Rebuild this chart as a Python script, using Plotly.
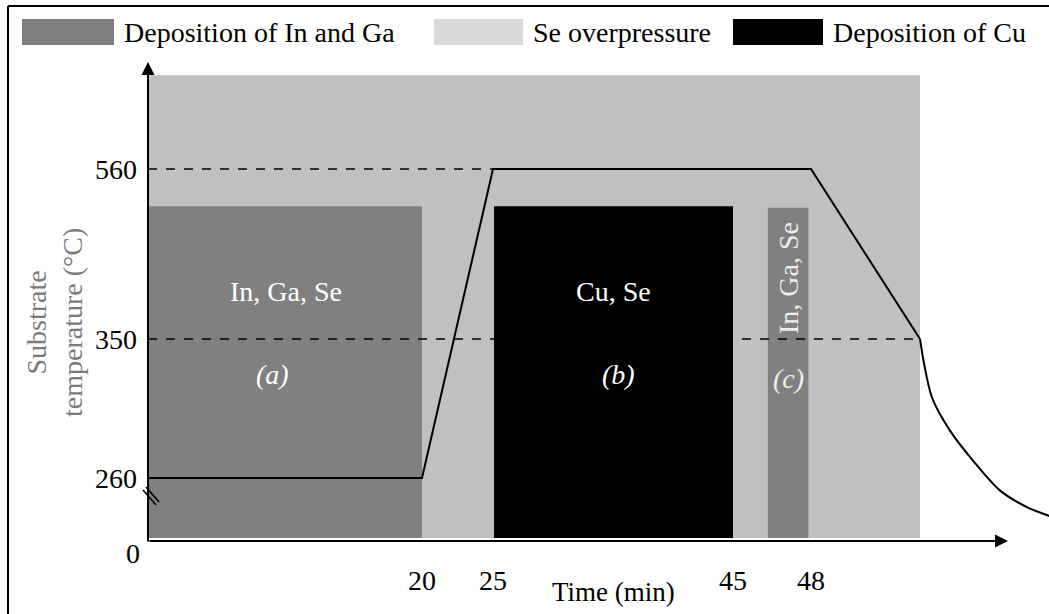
import numpy as np
import plotly.graph_objects as go

# --- process data -----------------------------------------------------------
# Schematic axes: each labelled time / temperature sits at a fixed spot on
# its axis, and values in between are mapped piecewise-linearly.
time_knots = [0, 20, 25, 45, 48, 55, 65]
time_axis_pos = [0, 274, 345, 585, 663, 772, 928]
temp_knots = [0, 260, 350, 560, 700]
temp_axis_pos = [0, 63, 202, 372, 485]

time_ticks = [20, 25, 45, 48]
temp_ticks = [260, 350, 560]

# temperature profile of the substrate
profile_time = [0, 20, 25, 48, 55]
profile_temp = [260, 260, 560, 560, 350]
cooling_time = [55, 55.26, 55.77, 56.9, 58.5, 60.1, 61.85, 63.3]
cooling_temp = [350, 334, 312, 291, 270, 210, 140, 103]

# deposition stages
stage_label = ["(a)", "(b)", "(c)"]
stage_species = ["In, Ga, Se", "Cu, Se", "In, Ga, Se"]
stage_start = [0, 25, 46.3]
stage_end = [20, 45, 47.9]
stage_top = [514, 514, 512]
stage_color = ["#808080", "#000000", "#808080"]

# selenium overpressure window
se_start, se_end, se_top = 0, 55, 676

legend_names = ["Deposition of In and Ga", "Se overpressure", "Deposition of Cu"]
legend_colors = ["#808080", "#d9d9d9", "#000000"]


def tx(t):
    return np.interp(t, time_knots, time_axis_pos)


def ty(v):
    return np.interp(v, temp_knots, temp_axis_pos)


FONT = "Liberation Serif, Times New Roman, serif"
W, H = 1049, 614
ML, MR, MT, MB = 148, 0, 40, 73
PW, PH = W - ML - MR, H - MT - MB


def paper_x(px):
    return (px - ML) / PW


def paper_y(py):
    return (H - MB - py) / PH


def label(px, py, text, size=28, color="black", angle=0,
          xanchor="center", yanchor="middle", **kw):
    return dict(x=paper_x(px), y=paper_y(py), xref="paper", yref="paper",
                text=text, showarrow=False, textangle=angle,
                xanchor=xanchor, yanchor=yanchor,
                font=dict(family=FONT, size=size, color=color), **kw)


fig = go.Figure()
shapes = []
annotations = []

# Se overpressure background
shapes.append(dict(type="rect", xref="x", yref="y", layer="below",
                   x0=float(tx(se_start)), x1=float(tx(se_end)),
                   y0=float(ty(0)) + 3, y1=float(ty(se_top)),
                   fillcolor="#c0c0c0", line=dict(width=0)))

# deposition blocks
for s, e, top, c in zip(stage_start, stage_end, stage_top, stage_color):
    shapes.append(dict(type="rect", xref="x", yref="y", layer="below",
                       x0=float(tx(s)) + 1, x1=float(tx(e)),
                       y0=float(ty(0)) + 3, y1=float(ty(top)),
                       fillcolor=c, line=dict(width=0)))

# reference temperature levels
fig.add_trace(go.Scatter(x=tx([0, 25]), y=ty([560, 560]), mode="lines",
                         line=dict(color="black", width=1.6, dash="dash"),
                         hoverinfo="skip"))
fig.add_trace(go.Scatter(x=tx([0, 55]), y=ty([350, 350]), mode="lines",
                         line=dict(color="black", width=1.6, dash="dash"),
                         hoverinfo="skip"))

# temperature profile
fig.add_trace(go.Scatter(x=tx(profile_time), y=ty(profile_temp), mode="lines",
                         line=dict(color="black", width=2), hoverinfo="skip"))
fig.add_trace(go.Scatter(x=tx(cooling_time), y=ty(cooling_temp), mode="lines",
                         line=dict(color="black", width=2, shape="spline",
                                   smoothing=0.8),
                         hoverinfo="skip"))

# axes drawn as arrows
annotations.append(dict(x=0, y=479, ax=0, ay=-2, xref="x", yref="y",
                        axref="x", ayref="y", showarrow=True, text="",
                        arrowhead=2, arrowsize=1.3, arrowwidth=2,
                        arrowcolor="black"))
annotations.append(dict(x=860, y=0, ax=0, ay=0, xref="x", yref="y",
                        axref="x", ayref="y", showarrow=True, text="",
                        arrowhead=2, arrowsize=1.3, arrowwidth=2,
                        arrowcolor="black"))

# axis break on the temperature axis
for d in (0, 3):
    shapes.append(dict(type="line", xref="paper", yref="paper",
                       x0=paper_x(143 + d), y0=paper_y(490 - d),
                       x1=paper_x(156 + d), y1=paper_y(505 - d),
                       line=dict(color="black", width=1.6)))

annotations.append(label(133, 553, "0"))
annotations.append(label(613, 592, "Time (min)", size=27))
annotations.append(label(54, 323, "Substrate<br>temperature (°C)",
                         color="#7a7a7a", angle=-90, align="center"))

# stage labels
annotations.append(label(286, 291, stage_species[0], color="white"))
annotations.append(label(272, 374, "<i>" + stage_label[0] + "</i>", color="white"))
annotations.append(label(613, 291, stage_species[1], color="white"))
annotations.append(label(618, 374, "<i>" + stage_label[1] + "</i>", color="white"))
annotations.append(label(788, 278, stage_species[2], color="#eeeeee", angle=-90))
annotations.append(label(788, 378, "<i>" + stage_label[2] + "</i>", color="#eeeeee"))

# legend row
sw_x = [(22, 114), (434, 523), (733, 823)]
tx_x = [122, 531, 831]
for (a, b), t0, name, col in zip(sw_x, tx_x, legend_names, legend_colors):
    shapes.append(dict(type="rect", xref="paper", yref="paper",
                       x0=paper_x(a), x1=paper_x(b),
                       y0=paper_y(45), y1=paper_y(19),
                       fillcolor=col, line=dict(width=0)))
    annotations.append(label(t0, 32, name, xanchor="left"))

# frame lines
shapes.append(dict(type="line", xref="paper", yref="paper",
                   x0=paper_x(8), x1=paper_x(8), y0=paper_y(6), y1=paper_y(620),
                   line=dict(color="black", width=2)))
shapes.append(dict(type="line", xref="paper", yref="paper",
                   x0=paper_x(8), x1=paper_x(1060), y0=paper_y(6), y1=paper_y(6),
                   line=dict(color="black", width=2)))

fig.update_layout(
    width=W, height=H,
    margin=dict(l=ML, r=MR, t=MT, b=MB),
    paper_bgcolor="white", plot_bgcolor="white",
    showlegend=False,
    shapes=shapes, annotations=annotations,
    xaxis=dict(range=[0, PW], showgrid=False, zeroline=False, showline=False,
               tickmode="array", tickvals=tx(time_ticks),
               ticktext=[str(t) for t in time_ticks], ticks="",
               ticklabelstandoff=20,
               tickfont=dict(family=FONT, size=28, color="black")),
    yaxis=dict(range=[0, PH], showgrid=False, zeroline=False, showline=False,
               tickmode="array", tickvals=ty(temp_ticks),
               ticktext=[str(v) for v in temp_ticks], ticks="",
               ticklabelstandoff=10,
               tickfont=dict(family=FONT, size=28, color="black")),
)

fig.write_html("out.html")
